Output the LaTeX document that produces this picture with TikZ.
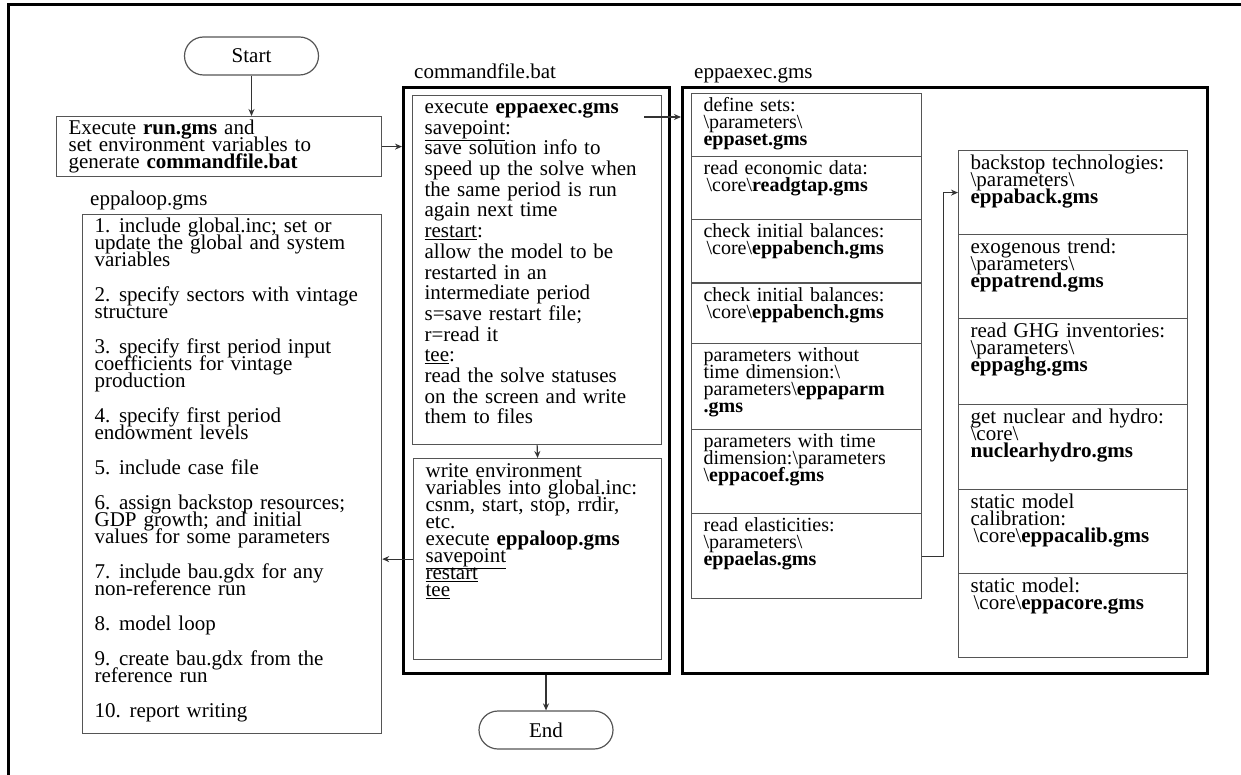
\documentclass[tikz,border=0pt]{standalone}
\usepackage{fontspec}
\setmainfont{Liberation Serif}
\usetikzlibrary{arrows.meta}

\definecolor{boxgray}{HTML}{555555}
\definecolor{linkgray}{HTML}{333333}

% width, height, top gap, lines
\newcommand{\celltext}[4]{\parbox[c][#2pt][t]{#1pt}{\vspace*{#3pt}\raggedright
  \leftskip=12pt\rightskip=-40pt plus 1fil\lineskiplimit=-\maxdimen
  \spaceskip=0.33em plus 0.05em\relax #4\par}}
\newcommand{\bs}{\textbackslash}

\tikzset{
  every node/.style={font=\fontsize{21}{17}\selectfont},
  cell/.style={draw=boxgray, line width=1.2pt, anchor=north west, inner sep=0pt},
  cellsm/.style={cell, font=\fontsize{20}{17}\selectfont},
  outerbox/.style={draw=black, line width=2.6pt, anchor=north west, inner sep=0pt},
  term/.style={draw=boxgray, line width=1.2pt, rounded corners=19pt, minimum width=134pt, minimum height=38pt, inner sep=0pt},
  filelbl/.style={anchor=base west, inner sep=0pt},
  flow/.style={draw=linkgray, line width=1.2pt, -{Stealth[length=7pt,width=6pt]}},
}

\begin{document}
\begin{tikzpicture}[x=1pt,y=-1pt]
	\useasboundingbox (0,0) rectangle (1241,775);
	\draw[line width=3pt] (8,775) -- (8,5) -- (1241,5);

	% start
	\node[term] (start) at (251.5,56) {Start};
	\node[cell] (run) at (56,116) {\celltext{325}{60}{3}{Execute \textbf{run.gms} and\\ set environment variables to\\ generate \textbf{commandfile.bat}}};

	% eppaloop.gms
	\node[filelbl] (looplbl) at (90,206) {eppaloop.gms};
	\node[cell] (loop) at (82,214) {\celltext{299}{519}{3}{1. include global.inc; set or\\ update the global and system\\ variables\\[18pt]
	2. specify sectors with vintage\\ structure\\[18pt]
	3. specify first period input\\ coefficients for vintage\\ production\\[18pt]
	4. specify first period\\ endowment levels\\[18pt]
	5. include case file\\[18pt]
	6. assign backstop resources;\\ GDP growth; and initial\\ values for some parameters\\[18pt]
	7. include bau.gdx for any\\ non-reference run\\[18pt]
	8. model loop\\[18pt]
	9. create bau.gdx from the\\ reference run\\[18pt]
	10. report writing}};

	% commandfile.bat
	\node[filelbl] (cmdlbl) at (414,79) {commandfile.bat};
	\node[outerbox, minimum width=266pt, minimum height=586pt] (cmd) at (402,86) {};
	\node[cell, font=\fontsize{21}{20.7}\selectfont] (cmd1) at (412,95) {\celltext{249}{349}{6}{execute \textbf{eppaexec.gms}\\ \underline{savepoint}:\\ save solution info to\\ speed up the solve when\\ the same period is run\\ again next time\\ \underline{restart}:\\ allow the model to be\\ restarted in an\\ intermediate period\\ s=save restart file;\\ r=read it\\ \underline{tee}:\\ read the solve statuses\\ on the screen and write\\ them to files}};
	\node[cell] (cmd2) at (413,458) {\celltext{248}{201}{5}{write environment\\ variables into global.inc:\\ csnm, start, stop, rrdir,\\ etc.\\ execute \textbf{eppaloop.gms}\\ \underline{savepoint}\\ \underline{restart}\\ \underline{tee}}};
	\coordinate (xgo) at (644,117);
	\node[term] (end) at (546,730) {End};

	% eppaexec.gms
	\node[filelbl] (execlbl) at (694,79) {eppaexec.gms};
	\node[outerbox, minimum width=525pt, minimum height=586pt] (gexec) at (681,86) {};
	\node[cellsm] (set) at (691,93) {\celltext{230}{63}{4}{define sets:\\ \bs parameters\bs\\ \textbf{eppaset.gms}}};
	\node[cellsm] (gtap) at (691,156) {\celltext{230}{63}{4}{read economic data:\\ \hspace*{3pt}\bs core\bs\textbf{readgtap.gms}}};
	\node[cellsm] (bench) at (691,219) {\celltext{230}{63}{4}{check initial balances:\\ \hspace*{3pt}\bs core\bs\textbf{eppabench.gms}}};
	\node[cellsm] (bench2) at (691,283) {\celltext{230}{60}{4}{check initial balances:\\ \hspace*{3pt}\bs core\bs\textbf{eppabench.gms}}};
	\node[cellsm] (parm) at (691,343) {\celltext{230}{86}{4}{parameters without\\ time dimension:\bs\\ parameters\bs\textbf{eppaparm}\\ \textbf{.gms}}};
	\node[cellsm] (coef) at (691,429) {\celltext{230}{84}{4}{parameters with time\\ dimension:\bs parameters\\ \bs\textbf{eppacoef.gms}}};
	\node[cellsm] (elas) at (691,513) {\celltext{230}{85}{4}{read elasticities:\\ \bs parameters\bs\\ \textbf{eppaelas.gms}}};

	\node[cell] (back) at (958,150) {\celltext{229}{84}{4}{backstop technologies:\\ \bs parameters\bs\\ \textbf{eppaback.gms}}};
	\node[cell] (trend) at (958,234) {\celltext{229}{84}{4}{exogenous trend:\\ \bs parameters\bs\\ \textbf{eppatrend.gms}}};
	\node[cell] (ghg) at (958,318) {\celltext{229}{86}{4}{read GHG inventories:\\ \bs parameters\bs\\ \textbf{eppaghg.gms}}};
	\node[cell] (hydro) at (958,404) {\celltext{229}{85}{4}{get nuclear and hydro:\\ \bs core\bs\\ \textbf{nuclearhydro.gms}}};
	\node[cell] (calib) at (958,489) {\celltext{229}{84}{4}{static model\\ calibration:\\ \hspace*{3pt}\bs core\bs\textbf{eppacalib.gms}}};
	\node[cell] (core) at (958,573) {\celltext{229}{84}{4}{static model:\\ \hspace*{3pt}\bs core\bs\textbf{eppacore.gms}}};

	% connectors
	\draw[flow] (start.south) -- (start.south |- run.north);
	\draw[flow] (run.east) -- (run.east -| cmd.west);
	\draw[flow] (xgo) -- (xgo -| gexec.west);
	\draw[flow] (cmd1.south) -- (cmd2.north);
	\draw[flow] (cmd2.west) -- (cmd2.west -| loop.east);
	\draw[flow] (end.north |- cmd.south) -- (end.north);
	\draw[flow] (elas.east) -- ++(21,0) |- (back.west);
\end{tikzpicture}
\end{document}
